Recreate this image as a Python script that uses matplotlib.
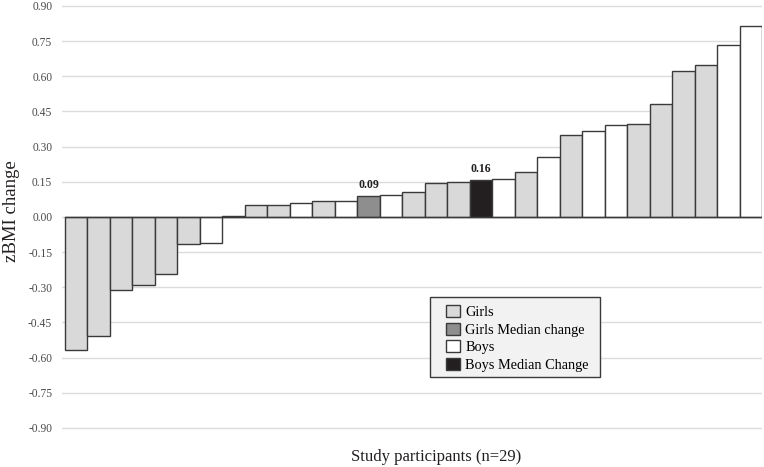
import matplotlib
matplotlib.use("Agg")
import matplotlib.pyplot as plt
from matplotlib.patches import Patch, Rectangle

plt.rcParams['font.family'] = ['Liberation Serif', 'DejaVu Serif']

# zBMI change per participant, sorted (two extra bars mark the medians)
values = [-0.567, -0.51, -0.311, -0.29, -0.243, -0.114, -0.11, 0.003,
          0.05, 0.053, 0.058, 0.07, 0.07, 0.09, 0.094, 0.108,
          0.146, 0.151, 0.158, 0.16, 0.19, 0.256, 0.35, 0.366,
          0.391, 0.398, 0.481, 0.622, 0.647, 0.734, 0.815]
# G = girl, GM = girls median, B = boy, BM = boys median
groups = ['G', 'G', 'G', 'G', 'G', 'G', 'B', 'B',
          'G', 'G', 'B', 'G', 'B', 'GM', 'B', 'G',
          'G', 'G', 'BM', 'B', 'G', 'B', 'G', 'B',
          'B', 'G', 'G', 'G', 'G', 'B', 'B']
group_names = {'G': 'Girls', 'GM': 'Girls Median change',
               'B': 'Boys', 'BM': 'Boys Median Change'}
group_colors = {'G': '#d9d9da', 'GM': '#8e8e8f', 'B': '#ffffff', 'BM': '#231f20'}
median_labels = {'GM': '0.09', 'BM': '0.16'}
yticks = [-0.90, -0.75, -0.60, -0.45, -0.30, -0.15, 0.00,
          0.15, 0.30, 0.45, 0.60, 0.75, 0.90]

W, H = 764, 467
fig = plt.figure(figsize=(W / 100, H / 100), dpi=100)
ax = fig.add_axes([62 / W, 1 - 432.6 / H, 700 / W, 431.3 / H])

x = list(range(len(values)))
colors = [group_colors[g] for g in groups]
ax.bar(x, values, width=1.0, color=colors, edgecolor='#3a3a3a', linewidth=1.0, zorder=3)

for i, (v, g) in enumerate(zip(values, groups)):
    if g in median_labels:
        ax.text(i, v + 0.02, median_labels[g], ha='center', va='bottom',
                fontsize=8.5, fontweight='bold', color='#231f20')

ax.set_xlim(-0.63, len(values) - 0.5)
ax.set_ylim(-0.92, 0.92)
ax.set_yticks(yticks)
ax.set_yticklabels(['%.2f' % t for t in yticks], fontsize=8.3, color='#4a4a4a')
ax.set_xticks([])
ax.tick_params(axis='y', length=0, pad=7)
ax.grid(axis='y', color='#dcdcdc', linewidth=1.0, zorder=0)
ax.axhline(0, xmin=0.13 / 31.13, color='#3a3a3a', linewidth=1.0, zorder=4)
for s in ax.spines.values():
    s.set_visible(False)

# axis titles placed in figure pixels
fig.text(12 / W, 1 - 211 / H, 'zBMI change', rotation=90, ha='center', va='center',
         fontsize=13.5, color='#231f20')
fig.text(436 / W, 1 - 457 / H, 'Study participants (n=29)', ha='center', va='center',
         fontsize=12, color='#231f20')

# legend box drawn separately so its padding can match the original
box = Rectangle((430 / W, 1 - 377 / H), 170 / W, 80 / H, transform=fig.transFigure,
                facecolor='#f2f2f2', edgecolor='#3a3a3a', linewidth=1.0,
                zorder=5, clip_on=False)
ax.add_patch(box)

handles = [Patch(facecolor=group_colors[k], edgecolor='#3a3a3a', label=group_names[k])
           for k in ['G', 'GM', 'B', 'BM']]
leg = ax.legend(handles=handles, loc='upper left',
                bbox_to_anchor=(446 / W, 1 - 305 / H), bbox_transform=fig.transFigure,
                fontsize=10.3, frameon=False, handlelength=0.95, handleheight=0.95,
                handletextpad=0.4, labelspacing=0.24, borderpad=0, borderaxespad=0)
leg.set_zorder(6)

fig.savefig('out.png', dpi=100)
